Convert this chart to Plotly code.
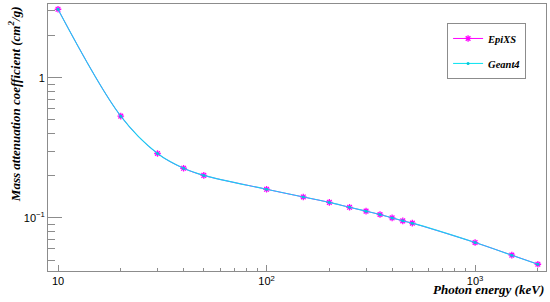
import plotly.graph_objects as go

# photon energies (keV)
energy = [10, 20, 30, 40, 50, 100, 150, 200, 250, 300, 350, 400, 450, 500, 1000, 1500, 2000]

# mass attenuation coefficient (cm2/g)
epixs = [3.08, 0.532, 0.288, 0.226, 0.201, 0.160, 0.141, 0.129, 0.119, 0.1117,
         0.1057, 0.100, 0.0952, 0.0917, 0.0667, 0.0542, 0.0467]
geant4 = [3.08, 0.532, 0.288, 0.226, 0.201, 0.160, 0.141, 0.129, 0.119, 0.1117,
          0.1057, 0.100, 0.0952, 0.0917, 0.0667, 0.0542, 0.0467]

x_tickvals = [10, 100, 1000]
x_ticktext = ["10", "10<sup>2</sup>", "10<sup>3</sup>"]
y_tickvals = [0.1, 1]
y_ticktext = ["10<sup>\u22121</sup>", "1"]

x_minor = [m * 10 ** k for k in range(1, 4) for m in range(2, 10) if m * 10 ** k < 2200]
y_minor = [m * 10 ** k for k in range(-2, 1) for m in range(2, 10) if 0.04 < m * 10 ** k < 3.4]

fig = go.Figure()
fig.add_trace(go.Scatter(
    x=energy, y=epixs, name="<b><i>EpiXS</i></b>", mode="lines+markers",
    line=dict(color="#ff00ff", width=1, shape="spline"),
    marker=dict(symbol="asterisk-open", size=5.5, color="#ff00ff", line=dict(color="#ff00ff", width=1.3)),
    legendgroup="a",
))
fig.add_trace(go.Scatter(
    x=energy, y=geant4, name="<b><i>Geant4</i></b>", mode="lines+markers",
    line=dict(color="rgba(0,225,240,0.9)", width=1.1, shape="spline"),
    marker=dict(symbol="circle", size=3, color="#00c8d8"),
    legendgroup="b",
))

axis_common = dict(
    type="log", showgrid=False, zeroline=False, ticks="inside",
    showline=True, linecolor="#8c8c8c", linewidth=1, mirror=True,
    tickcolor="#8c8c8c", tickfont=dict(family="Liberation Sans", size=11, color="black"),
    automargin=False,
)

fig.update_xaxes(
    **axis_common, range=[0.952, 3.34], tickvals=x_tickvals, ticktext=x_ticktext,
    ticklen=6, tickwidth=1,
    minor=dict(tickvals=x_minor, ticks="inside", ticklen=3, tickcolor="#8c8c8c", showgrid=False),
)
fig.update_yaxes(
    **axis_common, range=[-1.379, 0.526], tickvals=y_tickvals, ticktext=y_ticktext,
    ticklen=14, tickwidth=1,
    minor=dict(tickvals=y_minor, ticks="inside", ticklen=7, tickcolor="#8c8c8c", showgrid=False),
)

fig.add_annotation(
    text="<b><i>Mass attenuation coefficient (cm<sup>2</sup>/g)</i></b>",
    xref="paper", yref="paper", x=-0.068, y=1.0, xanchor="center", yanchor="top",
    textangle=-90, showarrow=False,
    font=dict(family="Liberation Serif", size=13, color="black"),
)
fig.add_annotation(
    text="<b><i>Photon energy (keV)</i></b>",
    xref="paper", yref="paper", x=1.0, y=-0.035, xanchor="right", yanchor="top",
    showarrow=False,
    font=dict(family="Liberation Serif", size=13, color="black"),
)

fig.update_layout(
    width=550, height=302,
    margin=dict(l=48, r=4, t=4, b=31),
    plot_bgcolor="white", paper_bgcolor="white",
    showlegend=True,
    legend=dict(
        x=0.96, y=0.929, xanchor="right", yanchor="top",
        bgcolor="white", bordercolor="#8c8c8c", borderwidth=1,
        font=dict(family="Liberation Serif", size=10.5, color="black"),
        itemwidth=30, tracegroupgap=6, traceorder="grouped",
    ),
)

fig.write_html("out.html", config={"displayModeBar": False},
               post_script="document.body.style.margin='0';")
